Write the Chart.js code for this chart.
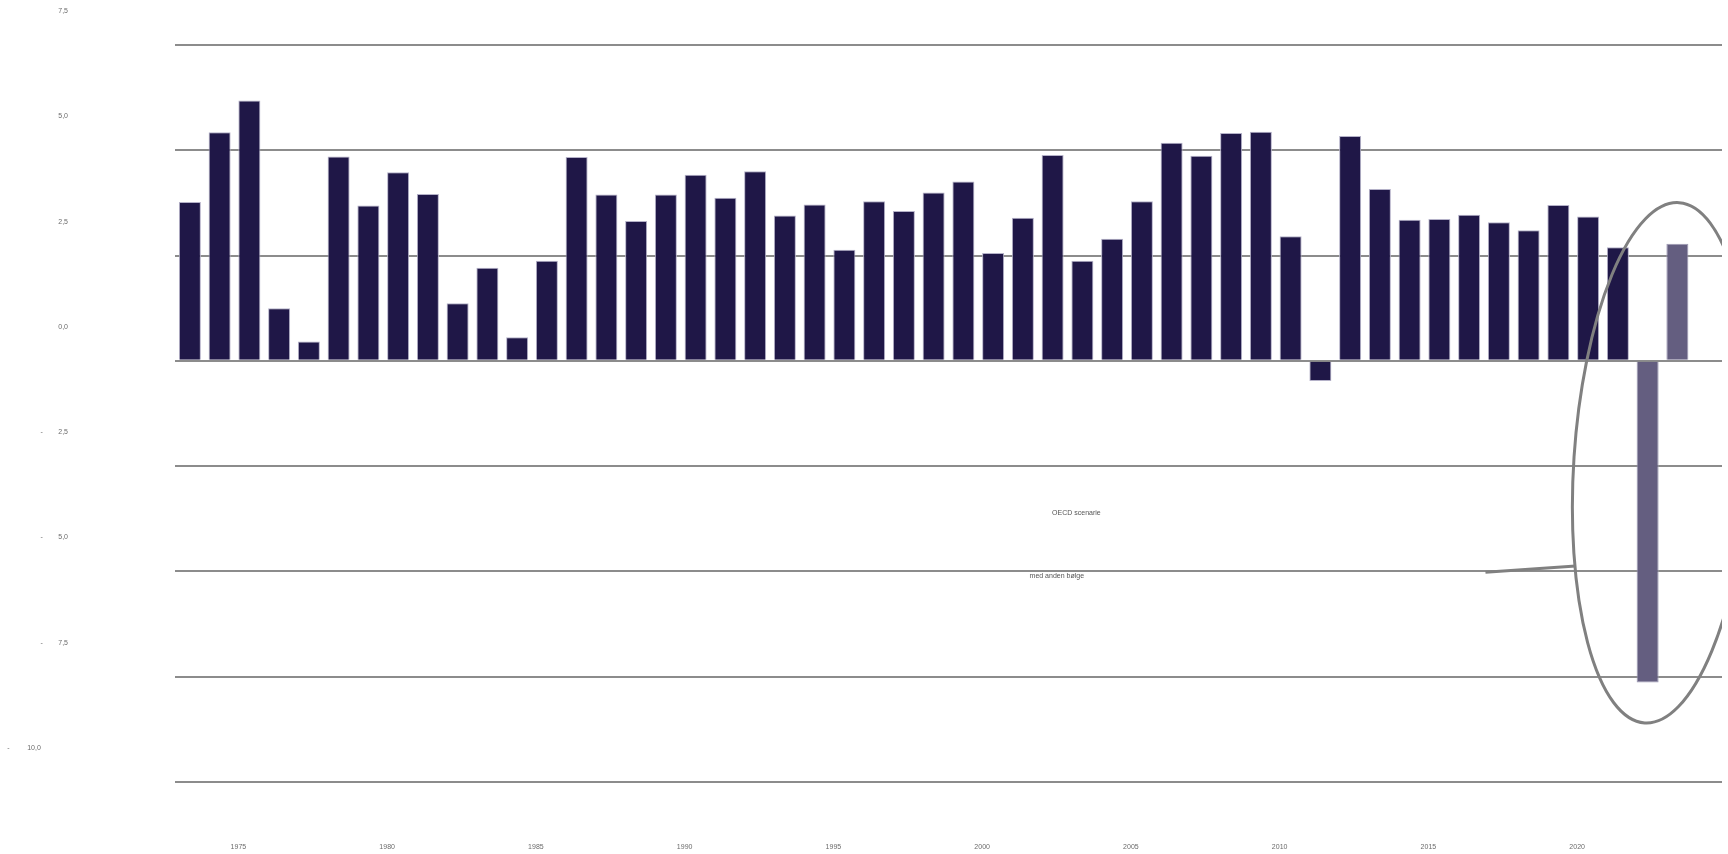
<!DOCTYPE html>
<html>
<head>
<meta charset="utf-8">
<script src="https://cdn.jsdelivr.net/npm/chart.js@4.4.1/dist/chart.umd.min.js"></script>
<style>
  html, body { margin: 0; padding: 0; background: #ffffff; }
  #wrap { width: 1728px; height: 854px; }
</style>
</head>
<body>
<div id="wrap"><canvas id="c" width="1728" height="854"></canvas></div>
<script>
// ---- data ----
const years = [1973,1974,1975,1976,1977,1978,1979,1980,1981,1982,1983,1984,1985,1986,1987,1988,1989,1990,1991,1992,1993,1994,1995,1996,1997,1998,1999,2000,2001,2002,2003,2004,2005,2006,2007,2008,2009,2010,2011,2012,2013,2014,2015,2016,2017,2018,2019,2020,2021,2022,2023,2024];
const historical = [3.77,5.43,6.18,1.25,0.46,4.85,3.69,4.48,3.96,1.37,2.21,0.56,2.38,4.84,3.95,3.32,3.95,4.42,3.87,4.50,3.45,3.71,2.64,3.79,3.56,4.00,4.26,2.56,3.40,4.89,2.38,2.90,3.79,5.18,4.87,5.41,5.44,2.96,-0.48,5.34,4.08,3.35,3.37,3.47,3.29,3.10,3.70,3.43,2.70,null,null,null];
const scenario   = [null,null,null,null,null,null,null,null,null,null,null,null,null,null,null,null,null,null,null,null,null,null,null,null,null,null,null,null,null,null,null,null,null,null,null,null,null,null,null,null,null,null,null,null,null,null,null,null,null,-7.64,2.78,null];
const yTickValues = [7.5, 5, 2.5, 0, -2.5, -5, -7.5, -10];
const yTickLabels = ['7,5', '5,0', '2,5', '0,0', '-        2,5', '-        5,0', '-        7,5', '-         10,0              '];
const annotationText1 = 'OECD scenarie';
const annotationText2 = 'med anden bølge';

const annotationPlugin = {
  id: 'scenarioNote',
  afterDatasetsDraw(chart) {
    const ctx = chart.ctx, x = chart.scales.x, y = chart.scales.y, a = chart.chartArea;
    ctx.save();
    ctx.beginPath();
    ctx.rect(a.left, a.top, a.right - a.left, a.bottom - a.top);
    ctx.clip();
    // ellipse around the scenario years
    const cx = x.getPixelForValue(49.48), cy = y.getPixelForValue(-2.42);
    const rx = Math.abs(x.getPixelForValue(2.96) - x.getPixelForValue(0));
    const ry = Math.abs(y.getPixelForValue(6.19) - y.getPixelForValue(0));
    ctx.strokeStyle = '#808080';
    ctx.lineWidth = 3;
    ctx.beginPath();
    ctx.ellipse(cx, cy, rx, ry, 0.066, 0, Math.PI * 2);
    ctx.stroke();
    // connector line
    ctx.beginPath();
    ctx.moveTo(x.getPixelForValue(43.55), y.getPixelForValue(-5.02));
    ctx.lineTo(x.getPixelForValue(46.58), y.getPixelForValue(-4.87));
    ctx.stroke();
    ctx.restore();
    // notes
    ctx.save();
    ctx.fillStyle = '#555555';
    ctx.font = '7px "Liberation Sans", Arial, sans-serif';
    ctx.textAlign = 'center';
    ctx.textBaseline = 'middle';
    ctx.fillText(annotationText1, x.getPixelForValue(29.8), y.getPixelForValue(-3.61));
    ctx.fillText(annotationText2, x.getPixelForValue(29.14), y.getPixelForValue(-5.12));
    ctx.restore();
  }
};

new Chart(document.getElementById('c'), {
  type: 'bar',
  data: {
    labels: years,
    datasets: [
      {
        label: 'Historisk',
        data: historical,
        backgroundColor: '#1f1747',
        borderColor: '#b4b1c8',
        borderWidth: 1,
        grouped: false,
        barPercentage: 0.74,
        categoryPercentage: 1.0
      },
      {
        label: 'OECD scenarie',
        data: scenario,
        backgroundColor: '#645e80',
        borderColor: '#9d99b3',
        borderWidth: 1,
        grouped: false,
        barPercentage: 0.74,
        categoryPercentage: 1.0
      }
    ]
  },
  options: {
    responsive: false,
    animation: false,
    devicePixelRatio: 1,
    layout: { padding: { top: 45, right: 6, left: 0, bottom: 0 } },
    plugins: { legend: { display: false }, tooltip: { enabled: false } },
    scales: {
      x: {
        grid: { display: false, drawTicks: false },
        border: { display: false },
        afterFit(s) { s.height = 72; s.paddingLeft = 0; s.paddingRight = 0; },
        ticks: {
          autoSkip: false,
          maxRotation: 0,
          minRotation: 0,
          labelOffset: -11,
          padding: 61,
          color: '#6b6b6b',
          font: { family: '"Liberation Sans", Arial, sans-serif', size: 7 },
          callback(v, i) { const yr = years[i]; return yr % 5 === 0 ? String(yr) : ''; }
        }
      },
      y: {
        min: -10,
        max: 7.5,
        afterFit(s) { s.width = 175; s.paddingTop = 0; s.paddingBottom = 0; },
        afterBuildTicks(s) { s.ticks = yTickValues.map(v => ({ value: v })); },
        grid: { color: '#8c8c8c', lineWidth: 2, drawTicks: false },
        border: { display: false },
        ticks: {
          stepSize: 2.5,
          labelOffset: -34,
          padding: 107,
          color: '#6b6b6b',
          font: { family: '"Liberation Sans", Arial, sans-serif', size: 7 },
          callback(v) { const i = yTickValues.indexOf(v); return i >= 0 ? yTickLabels[i] : ''; }
        }
      }
    }
  },
  plugins: [annotationPlugin]
});
</script>
</body>
</html>
